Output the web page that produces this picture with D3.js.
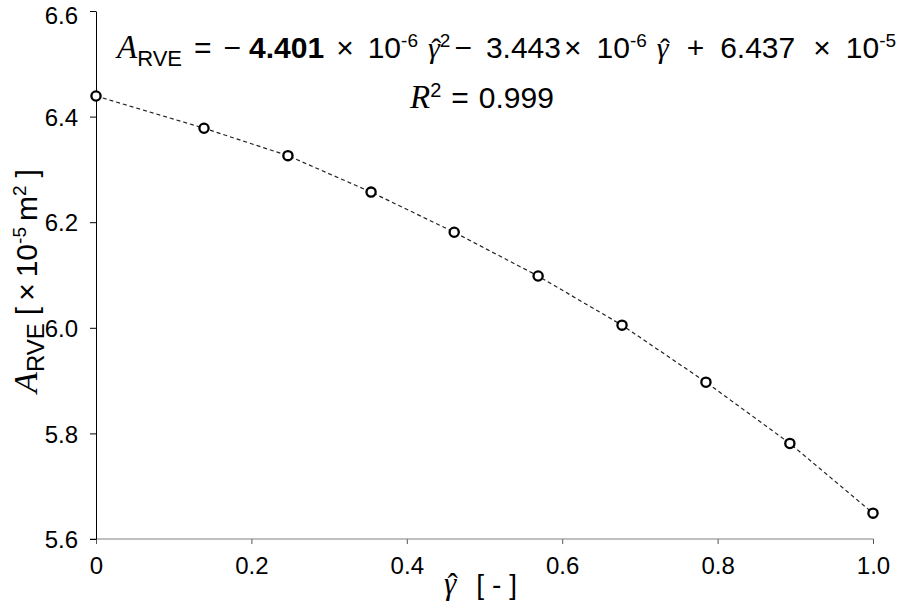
<!DOCTYPE html>
<html>
<head>
<meta charset="utf-8">
<script src="https://cdn.jsdelivr.net/npm/d3@7"></script>
<style>
  body { margin: 0; background: #fff; }
  svg { display: block; }
  .axis text { font-family: "Liberation Sans", Arial, sans-serif; font-size: 24px; fill: #000; }
</style>
</head>
<body>
<div id="chart"></div>
<script>
// 데이터
var gammaHat = [0, 0.139, 0.247, 0.354, 0.461, 0.569, 0.677, 0.785, 0.893, 1.0];
var aRve = [6.439, 6.378, 6.326, 6.257, 6.181, 6.098, 6.005, 5.897, 5.781, 5.649];
var xTicks = [0, 0.2, 0.4, 0.6, 0.8, 1.0];
var xTickLabels = ["0", "0.2", "0.4", "0.6", "0.8", "1.0"];
var yTicks = [5.6, 5.8, 6.0, 6.2, 6.4, 6.6];

var sans = "'Liberation Sans', Arial, sans-serif";
var serif = "'Liberation Serif', 'Times New Roman', serif";

// 글자 폭 측정
function measure(svg, str, font, size, style) {
  var t = svg.append("text").attr("font-family", font).attr("font-size", size)
    .attr("font-style", style || "normal").text(str);
  var w = t.node().getComputedTextLength();
  t.remove();
  return w;
}

// tspan 조각으로 수식 쓰기 (rise: 기준선에서 위로 올림)
function writeParts(svg, textSel, parts, baseSize) {
  var curRise = 0;
  var pendingDx = 0;
  parts.forEach(function(p) {
    if (p.gamma) {
      var gs = p.s || baseSize;
      var wg = measure(svg, "\u03b3", serif, gs, "italic");
      var wh = measure(svg, "\u02c6", serif, gs, "normal");
      textSel.append("tspan").text("\u03b3")
        .attr("font-family", serif).attr("font-style", "italic").attr("font-size", gs)
        .attr("dx", (p.dx || 0) + pendingDx).attr("dy", curRise);
      curRise = 0;
      var hatRise = p.hatRise || -1;
      var back = -(wg / 2 + wh / 2) + gs * 0.08;
      textSel.append("tspan").text("\u02c6")
        .attr("font-family", serif).attr("font-size", gs)
        .attr("dx", back).attr("dy", -(hatRise - curRise));
      curRise = hatRise;
      pendingDx = -(back + wh);
      return;
    }
    var rise = p.rise || 0;
    var ts = textSel.append("tspan").text(p.t)
      .attr("dy", -(rise - curRise))
      .attr("dx", (p.dx || 0) + pendingDx);
    pendingDx = 0;
    curRise = rise;
    if (p.f) ts.attr("font-family", p.f);
    if (p.s) ts.attr("font-size", p.s);
    if (p.st) ts.attr("font-style", p.st);
    if (p.w) ts.attr("font-weight", p.w);
  });
}

function makeChart(div_id, pWidth, pHeight) {
  var margin = {top: 11, right: 24, bottom: 63, left: 96};
  var width = pWidth - margin.left - margin.right;
  var height = pHeight - margin.top - margin.bottom;

  var root = d3.select("#" + div_id).append("svg")
    .attr("width", pWidth)
    .attr("height", pHeight);
  var svg = root.append("g")
    .attr("transform", "translate(" + margin.left + "," + margin.top + ")");

  var x = d3.scaleLinear().domain([0, 1]).range([0, width]);
  var y = d3.scaleLinear().domain([5.6, 6.6]).range([height, 0]);

  // x축
  var xAxis = d3.axisBottom(x).tickValues(xTicks).tickSize(5).tickPadding(13)
    .tickSizeOuter(0)
    .tickFormat(function(d, i) { return xTickLabels[i]; });
  var gx = svg.append("g").attr("class", "axis")
    .attr("transform", "translate(0," + height + ")")
    .call(xAxis);
  gx.select(".domain").remove();
  gx.selectAll(".tick line").attr("stroke", "#555");
  svg.append("line")
    .attr("x1", -6).attr("x2", width + 0.5)
    .attr("y1", height).attr("y2", height)
    .attr("stroke", "#808080").attr("stroke-width", 1.2);

  // y축
  var yAxis = d3.axisLeft(y).tickValues(yTicks).tickSize(6).tickPadding(12)
    .tickSizeOuter(0)
    .tickFormat(d3.format(".1f"));
  var gy = svg.append("g").attr("class", "axis").call(yAxis);
  gy.select(".domain").attr("stroke", "#000");
  gy.selectAll(".tick text").attr("dy", function(d) { return d === 6.6 ? "0.52em" : "0.36em"; });

  // 라인 (점선)
  var pts = gammaHat.map(function(g, i) { return {g: g, a: aRve[i]}; });
  var line = d3.line()
    .x(function(d) { return x(d.g); })
    .y(function(d) { return y(d.a); });
  svg.append("path").datum(pts)
    .attr("d", line)
    .attr("fill", "none")
    .attr("stroke", "#222")
    .attr("stroke-width", 1.2)
    .attr("stroke-dasharray", "4,3");

  // 포인트
  svg.selectAll(".pt").data(pts).enter().append("circle")
    .attr("class", "pt")
    .attr("cx", function(d) { return x(d.g); })
    .attr("cy", function(d) { return y(d.a); })
    .attr("r", 4.6)
    .attr("fill", "#fff")
    .attr("stroke", "#000")
    .attr("stroke-width", 2.3);

  // 수식 텍스트
  var eq = root.append("text")
    .attr("x", 117).attr("y", 58)
    .attr("font-family", sans).attr("font-size", 30).attr("fill", "#000");
  writeParts(root, eq, [
    {t: "A", f: serif, s: 33, st: "italic"},
    {t: "RVE", s: 22, rise: -8},
    {t: "=", dx: 12},
    {t: "\u2212", dx: 12},
    {t: "4.401", w: "bold", dx: 8},
    {t: "\u00d7", dx: 12},
    {t: "10", dx: 14},
    {t: "-6", s: 19, rise: 11},
    {gamma: true, dx: 10},
    {t: "2", s: 19, rise: 11},
    {t: "\u2212", dx: 4},
    {t: "3.443", dx: 14},
    {t: "\u00d7", dx: 3},
    {t: "10", dx: 15},
    {t: "-6", s: 19, rise: 11},
    {gamma: true, dx: 10},
    {t: "+", dx: 18},
    {t: "6.437", dx: 16},
    {t: "\u00d7", dx: 18},
    {t: "10", dx: 15},
    {t: "-5", s: 19, rise: 11}
  ], 30);

  var r2 = root.append("text")
    .attr("x", 410).attr("y", 108)
    .attr("font-family", sans).attr("font-size", 30).attr("fill", "#000");
  writeParts(root, r2, [
    {t: "R", f: serif, st: "italic", s: 33},
    {t: "2", s: 20, rise: 11},
    {t: "=", dx: 10},
    {t: "0.999", dx: 10}
  ], 30);

  // x축 제목
  var xt = root.append("text")
    .attr("x", 444).attr("y", 594)
    .attr("font-family", sans).attr("font-size", 28).attr("fill", "#000");
  writeParts(root, xt, [
    {gamma: true, s: 31, hatRise: -1},
    {t: "[", dx: 20},
    {t: "-", dx: 8},
    {t: "]", dx: 8}
  ], 28);

  // y축 제목
  var yt = root.append("text")
    .attr("transform", "translate(37," + (margin.top + height / 2 + 6) + ") rotate(-90)")
    .attr("text-anchor", "middle")
    .attr("font-family", sans).attr("font-size", 30).attr("fill", "#000");
  writeParts(root, yt, [
    {t: "A", f: serif, st: "italic", s: 34},
    {t: "RVE", s: 24, rise: -7},
    {t: "[", dx: 8},
    {t: "\u00d7", dx: 6},
    {t: "10", dx: 6},
    {t: "-5", s: 19, rise: 11},
    {t: "m", dx: 6},
    {t: "2", s: 19, rise: 11},
    {t: "]", dx: 8}
  ], 30);
}

makeChart("chart", 897, 602);
</script>
</body>
</html>
